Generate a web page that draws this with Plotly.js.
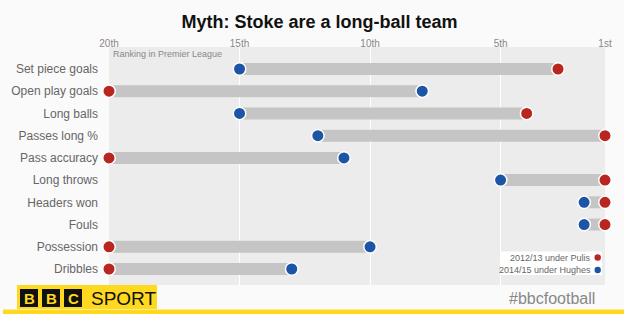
<!DOCTYPE html>
<html><head><meta charset="utf-8">
<script src="https://cdn.plot.ly/plotly-3.0.1.min.js"></script>
<style>html,body{margin:0;padding:0;background:#fafafa;}#chart{width:624px;height:314px;}</style>
</head><body><div id="chart"></div>
<script>
const categories = ["Set piece goals","Open play goals","Long balls","Passes long %","Pass accuracy","Long throws","Headers won","Fouls","Possession","Dribbles"];
const pulis = [2.8,20,4,1,20,1,1,1,20,20];      // 2012/13 under Pulis (rank)
const hughes = [15,8,15,12,11,5,1.8,1.8,10,13];  // 2014/15 under Hughes (rank)
const tickVals = [20,15,10,5,1];
const tickText = ["20th","15th","10th","5th","1st"];
const seriesNames = ["2012/13 under Pulis","2014/15 under Hughes"];

const RED = "#b8261f", BLUE = "#1d55a6", BAR = "#c5c5c5", YEL = "#fed920";

const bx = [], by = [];
categories.forEach((c,i)=>{ bx.push(pulis[i], hughes[i], null); by.push(c, c, null); });

const traces = [
  {type:"scatter", mode:"lines", x:bx, y:by, line:{color:BAR, width:12}, hoverinfo:"skip", showlegend:false, cliponaxis:false},
  {type:"scatter", mode:"markers", x:hughes, y:categories, name:seriesNames[1], cliponaxis:false,
   marker:{color:BLUE, size:12.5, line:{color:"#ffffff", width:1.5}}, showlegend:false},
  {type:"scatter", mode:"markers", x:pulis, y:categories, name:seriesNames[0], cliponaxis:false,
   marker:{color:RED, size:12.5, line:{color:"#ffffff", width:1.5}}, showlegend:false}
];

const F = "Liberation Sans, Arial, sans-serif";
// pixel -> paper helpers (plot area: x 109..605, y 47..285)
const px = v => (v-109)/496, py = v => (285-v)/238;
const sq = (a,b) => ({type:"rect", xref:"paper", yref:"paper", x0:px(a), x1:px(b), y0:py(307), y1:py(289), fillcolor:"#111", line:{width:0}});
const lab = (t,x) => ({text:t, xref:"paper", yref:"paper", x:px(x), y:py(298.5), xanchor:"center", yanchor:"middle", showarrow:false, font:{family:F, size:15, weight:700, color:YEL}});

const layout = {
  width:624, height:314,
  margin:{l:109, r:19, t:47, b:29},
  paper_bgcolor:"#fafafa", plot_bgcolor:"#ececec",
  font:{family:F, color:"#666"},
  showlegend:false,
  title:{text:"Myth: Stoke are a long-ball team", font:{family:F, size:18, weight:700, color:"#111"}, x:0.512, xref:"container", xanchor:"center", y:1-22/314, yref:"container", yanchor:"middle"},
  xaxis:{side:"top", range:[20,1], tickvals:tickVals, ticktext:tickText, showgrid:true, gridcolor:"#ffffff", gridwidth:1,
         zeroline:false, ticks:"", tickfont:{size:10, color:"#888"}, fixedrange:true, showline:false, ticklabelstandoff:-3},
  yaxis:{type:"category", categoryarray:categories, range:[9.72,-0.99], showgrid:false, zeroline:false, ticks:"",
         ticklabelstandoff:10, tickfont:{size:12, color:"#666"}, fixedrange:true},
  shapes:[
    {type:"rect", xref:"paper", yref:"paper", x0:px(501), x1:px(602), y0:py(275), y1:py(251.5), fillcolor:"#ffffff", line:{width:0}, layer:"above"},
    {type:"circle", xref:"paper", yref:"paper", xsizemode:"pixel", ysizemode:"pixel", xanchor:px(597.7), yanchor:py(257.5), x0:-3.2, x1:3.2, y0:-3.2, y1:3.2, fillcolor:RED, line:{width:0}, layer:"above"},
    {type:"circle", xref:"paper", yref:"paper", xsizemode:"pixel", ysizemode:"pixel", xanchor:px(597.7), yanchor:py(270), x0:-3.2, x1:3.2, y0:-3.2, y1:3.2, fillcolor:BLUE, line:{width:0}, layer:"above"},
    // BBC Sport logo
    {type:"rect", xref:"paper", yref:"paper", x0:px(17), x1:px(157), y0:py(309), y1:py(285), fillcolor:YEL, line:{width:0}},
    sq(20,38), sq(42,60), sq(64,82),
    {type:"rect", xref:"paper", yref:"paper", x0:px(3), x1:px(624), y0:py(314), y1:py(309.5), fillcolor:YEL, line:{width:0}}
  ],
  annotations:[
    {text:"Ranking in Premier League", xref:"paper", yref:"paper", x:px(111), y:py(53.5), xanchor:"left", yanchor:"middle", showarrow:false, font:{family:F, size:9, color:"#888"}},
    {text:seriesNames[0], xref:"paper", yref:"paper", x:px(593), y:py(257.5), xanchor:"right", yanchor:"middle", showarrow:false, font:{family:F, size:9, color:"#666"}},
    {text:seriesNames[1], xref:"paper", yref:"paper", x:px(593), y:py(270), xanchor:"right", yanchor:"middle", showarrow:false, font:{family:F, size:9, color:"#666"}},
    lab("B",29), lab("B",51), lab("C",73),
    {text:"SPORT", xref:"paper", yref:"paper", x:px(89), y:py(298), xanchor:"left", yanchor:"middle", showarrow:false, font:{family:F, size:19, color:"#111"}},
    {text:"#bbcfootball", xref:"paper", yref:"paper", x:px(597), y:py(298), xanchor:"right", yanchor:"middle", showarrow:false, font:{family:F, size:16, color:"#888"}}
  ]
};
Plotly.newPlot("chart", traces, layout, {displayModeBar:false, staticPlot:true});
</script></body></html>
